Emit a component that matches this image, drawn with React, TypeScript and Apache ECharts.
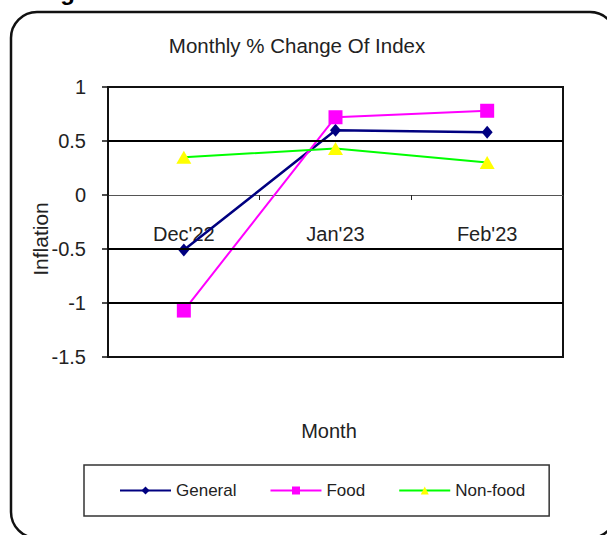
import React, { useEffect, useRef } from "react";
import * as echarts from "echarts";

const categories = ["Dec'22", "Jan'23", "Feb'23"];
const general = [-0.51, 0.6, 0.58];
const food = [-1.07, 0.72, 0.78];
const nonFood = [0.35, 0.43, 0.3];
const gridLineValues = [0.5, -0.5, -1];
const yMin = -1.5;
const yMax = 1;
const yInterval = 0.5;

const FONT = "'Liberation Sans', Arial, sans-serif";

export default function App() {
  const ref = useRef<HTMLDivElement>(null);
  useEffect(() => {
    if (!ref.current) return;
    const chart = echarts.init(ref.current, undefined, { renderer: "svg" });
    chart.setOption({
      animation: false,
      backgroundColor: "#ffffff",
      textStyle: { fontFamily: FONT },
      grid: {
        left: 108,
        top: 87,
        right: 44,
        bottom: 178,
        show: true,
        borderColor: "#111",
        borderWidth: 2,
      },
      xAxis: {
        type: "category",
        data: categories,
        boundaryGap: true,
        position: "bottom",
        offset: -162,
        axisLine: { onZero: false, lineStyle: { color: "#555", width: 1.2 } },
        axisTick: { show: true, length: 5, lineStyle: { color: "#222", width: 1 } },
        axisLabel: { margin: 29, fontSize: 20, color: "#222", fontFamily: FONT },
        splitLine: { show: false },
      },
      yAxis: {
        type: "value",
        min: yMin,
        max: yMax,
        interval: yInterval,
        axisLine: { show: true, lineStyle: { color: "#111", width: 2 } },
        axisTick: { show: true, length: 6, lineStyle: { color: "#111", width: 1.5 } },
        axisLabel: { margin: 22, fontSize: 20, color: "#222", fontFamily: FONT },
        splitLine: { show: false },
      },
      legend: {
        data: ["General", "Food", "Non-food"],
        left: 84,
        top: 465,
        orient: "horizontal",
        itemWidth: 51,
        itemHeight: 10,
        itemGap: 33,
        padding: [17, 24, 17, 35],
        borderColor: "#333",
        borderWidth: 1.5,
        textStyle: { fontSize: 17, color: "#222", fontFamily: FONT },
      },
      graphic: [
        {
          type: "rect",
          shape: { x: 11, y: 12, width: 605, height: 526, r: 26 },
          style: { fill: "none", stroke: "#111", lineWidth: 2.5 },
          silent: true,
        },
        {
          type: "text",
          x: 39,
          y: 3,
          style: {
            text: "Figure",
            font: `bold 24px ${FONT}`,
            fill: "#000",
            textAlign: "left",
            textVerticalAlign: "bottom",
          },
        },
        {
          type: "text",
          x: 297,
          y: 45,
          style: {
            text: "Monthly % Change Of Index",
            font: `20.5px ${FONT}`,
            fill: "#222",
            textAlign: "center",
            textVerticalAlign: "middle",
          },
        },
        {
          type: "text",
          x: 329,
          y: 431,
          style: {
            text: "Month",
            font: `20px ${FONT}`,
            fill: "#222",
            textAlign: "center",
            textVerticalAlign: "middle",
          },
        },
        {
          type: "text",
          x: 40,
          y: 239,
          rotation: Math.PI / 2,
          style: {
            text: "Inflation",
            font: `21px ${FONT}`,
            fill: "#222",
            textAlign: "center",
            textVerticalAlign: "middle",
          },
        },
      ],
      series: [
        {
          name: "gridlines",
          type: "line",
          data: [null, null, null],
          z: 1,
          silent: true,
          symbol: "none",
          markLine: {
            silent: true,
            symbol: ["none", "none"],
            label: { show: false },
            lineStyle: { color: "#000", width: 2, type: "solid" },
            data: gridLineValues.map((v) => ({ yAxis: v })),
          },
        },
        {
          name: "General",
          type: "line",
          data: general,
          z: 3,
          symbol: "diamond",
          symbolSize: [11, 13],
          lineStyle: { color: "#000080", width: 2.5 },
          itemStyle: { color: "#000080" },
        },
        {
          name: "Food",
          type: "line",
          data: food,
          z: 3,
          symbol: "rect",
          symbolSize: 14,
          lineStyle: { color: "#FF00FF", width: 2 },
          itemStyle: { color: "#FF00FF" },
        },
        {
          name: "Non-food",
          type: "line",
          data: nonFood,
          z: 3,
          symbol: "triangle",
          symbolSize: [15, 13],
          lineStyle: { color: "#00FF00", width: 2 },
          itemStyle: { color: "#FFFF00" },
        },
      ],
    });
    return () => chart.dispose();
  }, []);
  return (
    <div
      ref={ref}
      style={{ position: "absolute", left: 0, top: 0, width: 607, height: 535 }}
    />
  );
}
